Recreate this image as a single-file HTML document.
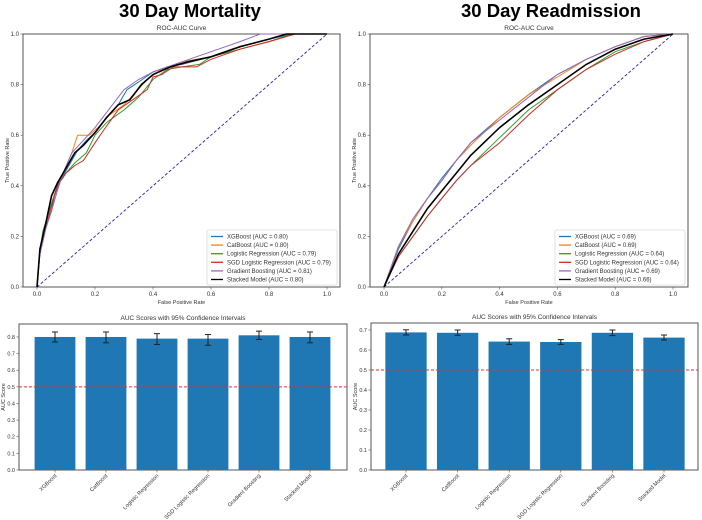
<!DOCTYPE html>
<html><head><meta charset="utf-8"><style>
body{margin:0;background:#fff;width:702px;height:520px;overflow:hidden;font-family:"Liberation Sans",sans-serif}
svg{display:block}
</style></head><body>
<svg id="c" width="702" height="520" xmlns="http://www.w3.org/2000/svg">
<text x="190" y="17" font-size="18.5" font-weight="bold" text-anchor="middle">30 Day Mortality</text>
<text x="551" y="17" font-size="18.5" font-weight="bold" text-anchor="middle">30 Day Readmission</text>
</svg>
<script>
const models=["XGBoost","CatBoost","Logistic Regression","SGD Logistic Regression","Gradient Boosting","Stacked Model"];
const colors=["#1f77b4","#ff7f0e","#2ca02c","#d62728","#9467bd","#000000"];
const mortAUC=["0.80","0.80","0.79","0.79","0.81","0.80"];
const readAUC=["0.69","0.69","0.64","0.64","0.69","0.66"];
const yTicks=[0,0.2,0.4,0.6,0.8,1.0];
const xTicks=[0,0.2,0.4,0.6,0.8,1.0];
// ROC points [fpr,tpr]
const mortROC=[
[[0,0],[0.01,0.15],[0.03,0.24],[0.05,0.3],[0.06,0.36],[0.08,0.42],[0.11,0.48],[0.14,0.54],[0.17,0.58],[0.2,0.61],[0.24,0.67],[0.28,0.72],[0.31,0.78],[0.35,0.81],[0.4,0.85],[0.45,0.87],[0.5,0.88],[0.6,0.91],[0.7,0.95],[0.8,0.98],[0.88,1],[1,1]],
[[0,0],[0.01,0.14],[0.03,0.25],[0.05,0.33],[0.07,0.4],[0.09,0.45],[0.12,0.53],[0.14,0.6],[0.18,0.6],[0.21,0.63],[0.25,0.68],[0.3,0.72],[0.34,0.77],[0.38,0.82],[0.43,0.86],[0.5,0.89],[0.6,0.91],[0.7,0.94],[0.8,0.97],[0.89,1],[1,1]],
[[0,0],[0.01,0.14],[0.02,0.22],[0.05,0.33],[0.07,0.4],[0.1,0.45],[0.13,0.49],[0.17,0.53],[0.2,0.6],[0.24,0.65],[0.3,0.7],[0.35,0.75],[0.4,0.82],[0.45,0.86],[0.5,0.87],[0.56,0.88],[0.6,0.91],[0.7,0.94],[0.8,0.97],[0.88,1],[1,1]],
[[0,0],[0.01,0.13],[0.03,0.23],[0.05,0.32],[0.07,0.4],[0.1,0.45],[0.13,0.48],[0.16,0.5],[0.2,0.57],[0.23,0.62],[0.28,0.7],[0.33,0.74],[0.38,0.78],[0.4,0.83],[0.43,0.84],[0.47,0.87],[0.55,0.87],[0.6,0.9],[0.7,0.94],[0.8,0.97],[0.89,1],[1,1]],
[[0,0],[0.01,0.13],[0.03,0.23],[0.05,0.3],[0.07,0.38],[0.09,0.45],[0.12,0.53],[0.16,0.58],[0.2,0.63],[0.24,0.69],[0.3,0.78],[0.35,0.82],[0.4,0.85],[0.5,0.89],[0.6,0.93],[0.65,0.95],[0.7,0.97],[0.77,1],[1,1]],
[[0,0],[0.01,0.15],[0.03,0.25],[0.05,0.36],[0.07,0.41],[0.1,0.47],[0.13,0.53],[0.16,0.56],[0.2,0.61],[0.24,0.67],[0.28,0.72],[0.32,0.74],[0.36,0.8],[0.4,0.84],[0.46,0.87],[0.52,0.89],[0.6,0.91],[0.7,0.95],[0.8,0.98],[0.86,1],[1,1]]
];
const readROC=[
[[0,0],[0.05,0.15],[0.1,0.26],[0.15,0.35],[0.2,0.43],[0.25,0.5],[0.3,0.57],[0.4,0.67],[0.5,0.76],[0.6,0.84],[0.7,0.9],[0.8,0.95],[0.9,0.99],[1,1]],
[[0,0],[0.05,0.16],[0.1,0.26],[0.15,0.35],[0.2,0.42],[0.25,0.5],[0.3,0.56],[0.4,0.67],[0.5,0.76],[0.6,0.83],[0.7,0.9],[0.8,0.95],[0.9,0.99],[1,1]],
[[0,0],[0.05,0.12],[0.1,0.2],[0.15,0.28],[0.2,0.35],[0.25,0.42],[0.3,0.48],[0.4,0.59],[0.5,0.7],[0.6,0.78],[0.7,0.86],[0.8,0.93],[0.9,0.97],[1,1]],
[[0,0],[0.05,0.12],[0.1,0.2],[0.15,0.28],[0.2,0.35],[0.25,0.42],[0.3,0.48],[0.4,0.57],[0.5,0.68],[0.6,0.78],[0.7,0.86],[0.8,0.92],[0.9,0.97],[1,1]],
[[0,0],[0.05,0.16],[0.1,0.27],[0.15,0.35],[0.2,0.42],[0.25,0.5],[0.3,0.57],[0.4,0.66],[0.5,0.75],[0.6,0.84],[0.7,0.9],[0.8,0.95],[0.9,0.99],[1,1]],
[[0,0],[0.05,0.13],[0.1,0.22],[0.15,0.31],[0.2,0.38],[0.25,0.45],[0.3,0.52],[0.4,0.63],[0.5,0.72],[0.6,0.8],[0.7,0.88],[0.8,0.94],[0.9,0.98],[1,1]]
];
const mortScores=[0.80,0.80,0.79,0.79,0.81,0.80];
const mortLow=[0.77,0.765,0.755,0.75,0.785,0.765];
const mortHigh=[0.83,0.83,0.82,0.815,0.835,0.83];
const readScores=[0.688,0.686,0.642,0.640,0.686,0.662];
const readLow=[0.675,0.673,0.628,0.628,0.672,0.650];
const readHigh=[0.701,0.700,0.656,0.652,0.700,0.675];
const mortBarTicks=[0,0.1,0.2,0.3,0.4,0.5,0.6,0.7,0.8];
const readBarTicks=[0,0.1,0.2,0.3,0.4,0.5,0.6,0.7];

const svg=document.getElementById('c');
const NS="http://www.w3.org/2000/svg";
function mk(tag,attrs,parent){const e=document.createElementNS(NS,tag);for(const k in attrs)e.setAttribute(k,attrs[k]);(parent||svg).appendChild(e);return e;}
function txt(x,y,s,size,anchor,parent,extra){const t=mk('text',Object.assign({x:x,y:y,'font-size':size,'text-anchor':anchor||'middle',fill:'#333'},extra||{}),parent);t.textContent=s;return t;}

function roc(px0,px1,pl,pr,curves,aucs,name){
  const g=mk('g',{});
  
  
  const top=34,bot=287;
  const sx=v=>px0+(px1-px0)*v, sy=v=>bot-(bot-top)*v;
  mk('rect',{x:pl,y:top,width:pr-pl,height:bot-top,fill:'#fff',stroke:'#555','stroke-width':1},g);
  txt((pl+pr)/2,30,'ROC-AUC Curve',6.5,'middle',g);
  xTicks.forEach(v=>{mk('line',{x1:sx(v),x2:sx(v),y1:bot,y2:bot+2.5,stroke:'#555','stroke-width':0.6},g);txt(sx(v),bot+9,v.toFixed(1),6,'middle',g);});
  yTicks.forEach(v=>{mk('line',{x1:pl-2.5,x2:pl,y1:sy(v),y2:sy(v),stroke:'#555','stroke-width':0.6},g);txt(pl-4,sy(v)+2,v.toFixed(1),6,'end',g);});
  txt((pl+pr)/2,bot+17,'False Positive Rate',5.5,'middle',g);
  const yl=txt(pl-14,(top+bot)/2,'True Positive Rate',5.5,'middle',g);
  yl.setAttribute('transform','rotate(-90 '+(pl-14)+' '+(top+bot)/2+')');
  const d=mk('line',{x1:sx(0),y1:sy(0),x2:sx(1),y2:sy(1),stroke:'#2222bb','stroke-width':0.9,'stroke-dasharray':'3,2'},g);
  
  
  curves.forEach((c,i)=>{
    const pts=c.map(p=>sx(p[0]).toFixed(1)+','+sy(p[1]).toFixed(1)).join(' ');
    const l=mk('polyline',{points:pts,fill:'none',stroke:colors[i],'stroke-width':i==5?1.6:1},g);
    
    
  });
  const lx=pr-133,ly=230;
  const lg=mk('g',{},g);
  
  
  mk('rect',{x:lx,y:ly,width:130,height:55,fill:'#fff',stroke:'#ccc','stroke-width':0.6,rx:2},lg);
  models.forEach((m,i)=>{
    const yy=ly+6.5+i*8.6;
    mk('line',{x1:lx+4,x2:lx+16,y1:yy,y2:yy,stroke:colors[i],'stroke-width':1.3},lg);
    const t=txt(lx+20,yy+2,m+' (AUC = '+aucs[i]+')',6,'start',lg);
    
    
  });
}
roc(37,327,23,340,mortROC,mortAUC,'mortality');
roc(384,673,370,688,readROC,readAUC,'readmission');

function bars(pl,pr,top,ymax,c0,step,scores,lo,hi,ticks,name){
  const bot=470;
  const g=mk('g',{});
  
  
  const sy=v=>bot-(bot-top)*v/ymax;
  mk('rect',{x:pl,y:top,width:pr-pl,height:bot-top,fill:'#fff',stroke:'#555','stroke-width':1},g);
  txt((pl+pr)/2,top-4,'AUC Scores with 95% Confidence Intervals',6.5,'middle',g);
  ticks.forEach(v=>{mk('line',{x1:pl-2.5,x2:pl,y1:sy(v),y2:sy(v),stroke:'#555','stroke-width':0.6},g);txt(pl-4,sy(v)+2,v.toFixed(1),5.5,'end',g);});
  const yl=txt(pl-14,(top+bot)/2,'AUC Score',5.5,'middle',g);
  yl.setAttribute('transform','rotate(-90 '+(pl-14)+' '+(top+bot)/2+')');
  const bw=step*0.8;
  scores.forEach((s,i)=>{
    const cx=c0+step*i;
    const b=mk('rect',{x:cx-bw/2,y:sy(s),width:bw,height:bot-sy(s),fill:'#1f77b4'},g);
    
    
    mk('line',{x1:cx,x2:cx,y1:sy(hi[i]),y2:sy(lo[i]),stroke:'#222','stroke-width':1},g);
    mk('line',{x1:cx-3,x2:cx+3,y1:sy(hi[i]),y2:sy(hi[i]),stroke:'#222','stroke-width':1},g);
    mk('line',{x1:cx-3,x2:cx+3,y1:sy(lo[i]),y2:sy(lo[i]),stroke:'#222','stroke-width':1},g);
    mk('line',{x1:cx,x2:cx,y1:bot,y2:bot+2.5,stroke:'#555','stroke-width':0.6},g);
    const t=txt(cx+2,bot+6,models[i],5.5,'end',g);
    t.setAttribute('transform','rotate(-45 '+(cx+2)+' '+(bot+6)+')');
    
    
  });
  const r=mk('line',{x1:pl,x2:pr,y1:sy(0.5),y2:sy(0.5),stroke:'#e03030','stroke-width':1,'stroke-dasharray':'3,2'},g);
  
  
}
bars(19,347,324,0.878,55,51,mortScores,mortLow,mortHigh,mortBarTicks,'mortality');
bars(371,698,323,0.735,406,51.6,readScores,readLow,readHigh,readBarTicks,'readmission');
</script>
</body></html>
